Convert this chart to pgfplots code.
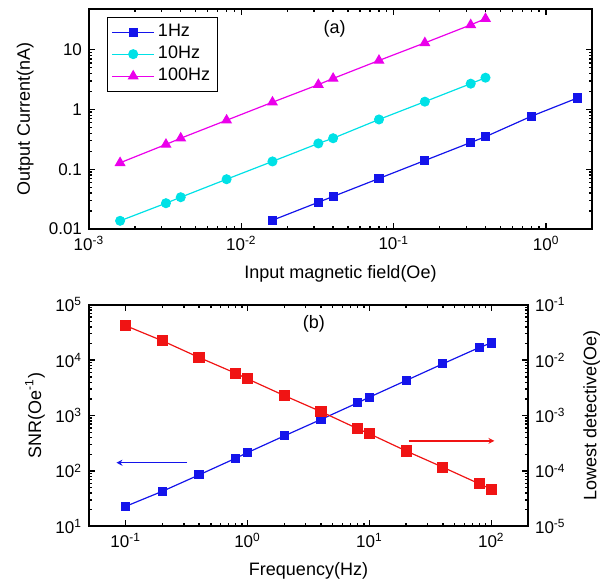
\documentclass[border=0pt]{standalone}
\usepackage{fontspec}
\setmainfont{Liberation Sans}
\usepackage{pgfplots}
\pgfplotsset{compat=1.18}
\usetikzlibrary{arrows.meta}

\definecolor{cblue}{RGB}{20,20,235}
\definecolor{ccyan}{RGB}{0,225,230}
\definecolor{cmag}{RGB}{235,0,235}
\definecolor{cred}{RGB}{240,20,20}

\pgfplotsset{
  every axis/.append style={
    scale only axis,
    axis line style={line width=1pt},
    every tick/.style={line width=0.7pt, black},
    major tick length=3pt, minor tick length=1.7pt,
    tick label style={font=\fontsize{8.5}{10}\selectfont},
    label style={font=\fontsize{9}{11}\selectfont},
    /pgf/number format/assume math mode=true,
  },
}

\begin{document}
\begin{tikzpicture}
\useasboundingbox (0pt,0pt) rectangle (301pt,293.5pt);

% (a) output current vs field
\begin{loglogaxis}[
  at={(44.5pt,179pt)}, anchor=south west,
  width=251.5pt, height=110pt,
  xmin=1e-3, xmax=2, ymin=0.01, ymax=48,
  xtick={0.001,0.01,0.1,1},
  xticklabels={10\textsuperscript{-3},10\textsuperscript{-2},10\textsuperscript{-1},10\textsuperscript{0}},
  ytick={0.01,0.1,1,10},
  yticklabels={0.01,0.1,1,10},
  xlabel={Input magnetic field(Oe)},
  ylabel={Output Current(nA)},
  x label style={at={(axis description cs:0.5,-0.205)}, anchor=center},
  y label style={at={(axis description cs:-0.127,0.5)}, anchor=center},
  legend style={at={(0.036,0.964)}, anchor=north west, draw=black, line width=0.5pt,
    font=\fontsize{9}{11}\selectfont, row sep=0pt, inner sep=2pt,
    nodes={inner sep=1.6pt}},
  legend cell align=left,
  legend image code/.code={%
    \draw[mark repeat=2,mark phase=2,#1] plot coordinates {(0pt,0pt) (10.5pt,0pt) (21pt,0pt)};},
]
\addplot[cblue, line width=0.6pt, mark=square*, mark size=2pt] coordinates {
 (0.016,0.014) (0.032,0.028) (0.04,0.035) (0.08,0.07) (0.16,0.14)
 (0.32,0.28) (0.4,0.35) (0.8,0.77) (1.6,1.55)};
\addlegendentry{1Hz}
\addplot[ccyan, line width=0.6pt, mark=*, mark size=2.2pt] coordinates {
 (0.0016,0.0137) (0.0032,0.027) (0.004,0.034) (0.008,0.068) (0.016,0.135)
 (0.032,0.27) (0.04,0.33) (0.08,0.68) (0.16,1.35) (0.32,2.7) (0.4,3.4)};
\addlegendentry{10Hz}
\addplot[cmag, line width=0.6pt, mark=triangle*, mark size=2.6pt] coordinates {
 (0.0016,0.128) (0.0032,0.26) (0.004,0.33) (0.008,0.66) (0.016,1.32)
 (0.032,2.6) (0.04,3.3) (0.08,6.6) (0.16,13) (0.32,26) (0.4,33)};
\addlegendentry{100Hz}
\node[font=\fontsize{9}{11}\selectfont] at (axis cs:0.041,22) {(a)};
\end{loglogaxis}

% (b) SNR, left axis
\begin{loglogaxis}[
  at={(44.5pt,30.3pt)}, anchor=south west,
  width=219.5pt, height=110.8pt,
  xmin=0.05, xmax=200, ymin=10, ymax=1e5,
  ytick pos=left,
  xtick={0.1,1,10,100},
  xticklabels={10\textsuperscript{-1},10\textsuperscript{0},10\textsuperscript{1},10\textsuperscript{2}},
  ytick={10,100,1000,10000,100000},
  yticklabels={10\textsuperscript{1},10\textsuperscript{2},10\textsuperscript{3},10\textsuperscript{4},10\textsuperscript{5}},
  xlabel={Frequency(Hz)},
  ylabel={SNR(Oe\textsuperscript{-1})},
  x label style={at={(axis description cs:0.5,-0.199)}, anchor=center},
  y label style={at={(axis description cs:-0.123,0.5)}, anchor=center},
]
\addplot[cblue, line width=0.6pt, mark=square*, mark size=2pt] coordinates {
 (0.1,23) (0.2,43) (0.4,85) (0.8,170) (1,215) (2,430) (4,850)
 (8,1700) (10,2150) (20,4300) (40,8600) (80,17000) (100,20500)};
\draw[cblue, line width=0.7pt, -{Stealth[length=3pt,width=3pt]}] (axis cs:0.32,141) -- (axis cs:0.084,141);
\node[font=\fontsize{9}{11}\selectfont] at (axis cs:3.5,45000) {(b)};
\end{loglogaxis}

% (b) lowest detectable field, right axis
\begin{loglogaxis}[
  at={(44.5pt,30.3pt)}, anchor=south west,
  width=219.5pt, height=110.8pt,
  xmin=0.05, xmax=200, ymin=1e-5, ymax=0.1,
  axis x line=none,
  axis y line*=right,
  ytick={0.00001,0.0001,0.001,0.01,0.1},
  yticklabels={10\textsuperscript{-5},10\textsuperscript{-4},10\textsuperscript{-3},10\textsuperscript{-2},10\textsuperscript{-1}},
  ylabel={Lowest detective(Oe)},
  y label style={at={(axis description cs:1.145,0.5)}, anchor=center},
]
\addplot[cred, line width=0.6pt, mark=square*, mark size=2.5pt] coordinates {
 (0.1,0.042) (0.2,0.0224) (0.4,0.0112) (0.8,0.0058) (1,0.0046) (2,0.0023)
 (4,0.00118) (8,0.00058) (10,0.00047) (20,0.00023) (40,0.000117)
 (80,0.0000585) (100,0.000047)};
\draw[cred, line width=0.7pt, -{Stealth[length=3pt,width=3pt]}] (axis cs:21,0.00035) -- (axis cs:106,0.00035);
\end{loglogaxis}
\end{tikzpicture}
\end{document}
